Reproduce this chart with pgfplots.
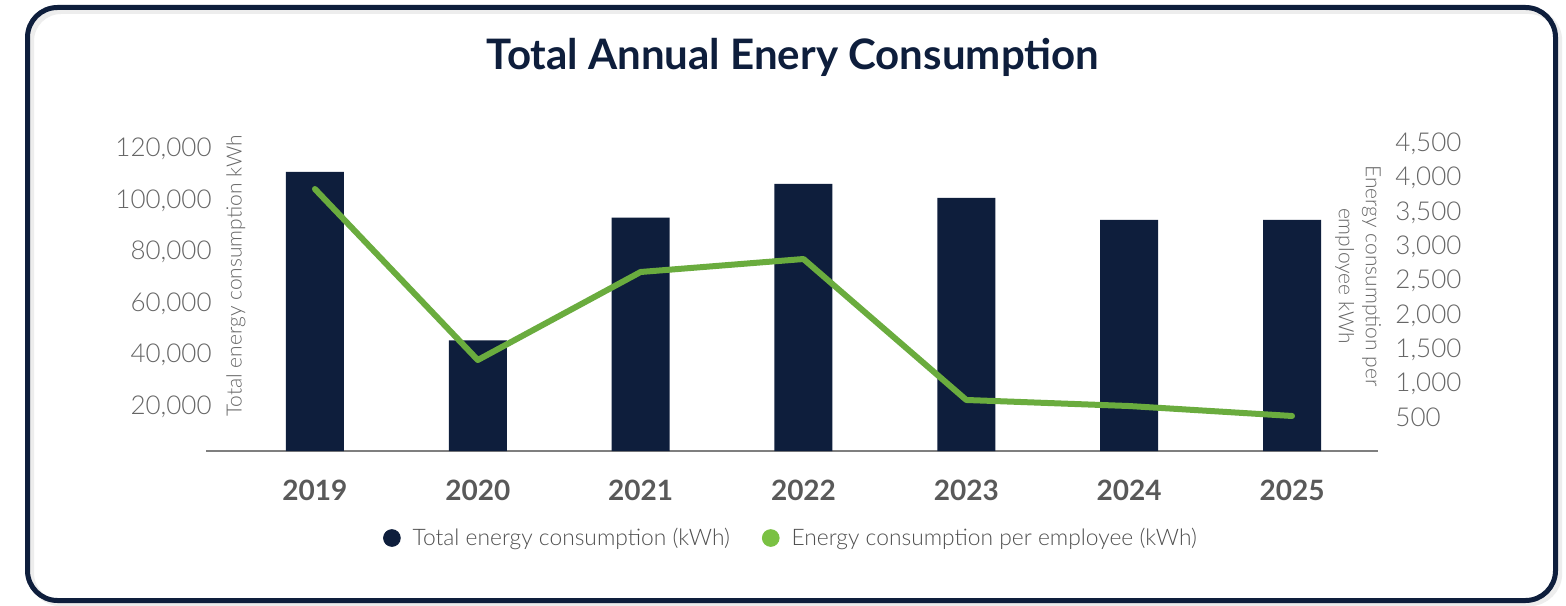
\documentclass[border=0pt]{standalone}
\usepackage{pgfplots}
\pgfplotsset{compat=1.18}
\usepackage{fontspec}
\setmainfont{Lato}
\IfFontExistsTF{Lato Light}{\newfontfamily\lightf{Lato Light}}{\newfontfamily\lightf{Lato}}
\definecolor{navyc}{HTML}{0E1E3C}
\definecolor{greenl}{HTML}{6AAC3E}
\definecolor{greenm}{HTML}{7AC143}
\definecolor{tickgray}{HTML}{666666}
\definecolor{yeargray}{HTML}{595959}
\definecolor{basegray}{HTML}{7F7F7F}
\definecolor{leggray}{HTML}{505050}
\begin{document}
\begin{tikzpicture}[x=1pt,y=1pt]
\useasboundingbox (0,0) rectangle (783,302.5);
\fill[white] (0,0) rectangle (783,302.5);
\draw[line width=3pt, black!7, rounded corners=15pt] (15.5,0.9) rectangle (779.6,297);
\draw[line width=2.5pt, navyc, rounded corners=15pt] (13.75,2.25) rectangle (777.75,298.75);
\node[anchor=base, font=\fontsize{21}{25}\selectfont\bfseries, text=navyc, inner sep=0pt] at (396.5,267.5) {Total Annual Enery Consumption};
\node[rotate=90, anchor=center, font=\fontsize{10.5}{13}\selectfont\lightf, text=tickgray, inner sep=0pt] at (118,164.5) {Total energy consumption kWh};
\node[rotate=-90, anchor=center, align=center, font=\fontsize{10.5}{13.5}\selectfont\lightf, text=tickgray, inner sep=0pt] at (679,164.5) {Energy consumption per\\employee kWh};
\begin{axis}[
 at={(103pt,77pt)}, anchor=south west,
 scale only axis, width=586pt, height=154.5pt,
 xmin=-0.669, xmax=6.528, ymin=0, ymax=120000,
 axis x line*=bottom, axis y line*=left,
 y axis line style={draw=none},
 x axis line style={basegray, line width=1pt},
 major tick length=0pt,
 scaled y ticks=false,
 xtick={0,...,6}, xticklabels={2019,2020,2021,2022,2023,2024,2025},
 xticklabel style={anchor=center, yshift=-19.5pt, font=\fontsize{14}{16}\selectfont\bfseries, text=yeargray},
 ytick={20000,40000,60000,80000,100000,120000},
 yticklabels={{20,000},{40,000},{60,000},{80,000},{100,000},{120,000}},
 yticklabel style={anchor=base east, inner sep=0pt, xshift=3pt, yshift=-7.45pt, font=\fontsize{13}{15}\selectfont\lightf, text=tickgray},
 ybar, bar width=29pt,
]
\addplot[fill=navyc, draw=none] coordinates {(0,108400) (1,43000) (2,90600) (3,103750) (4,98300) (5,89800) (6,89800)};
\end{axis}
\begin{axis}[
 at={(103pt,77pt)}, anchor=south west,
 scale only axis, width=586pt, height=154.5pt,
 xmin=-0.669, xmax=6.528, ymin=0, ymax=4500,
 axis x line=none, axis y line*=right,
 y axis line style={draw=none},
 major tick length=0pt,
 scaled y ticks=false,
 ytick={500,1000,1500,2000,2500,3000,3500,4000,4500},
 yticklabels={500,{1,000},{1,500},{2,000},{2,500},{3,000},{3,500},{4,000},{4,500}},
 yticklabel style={anchor=base west, inner sep=0pt, xshift=8.5pt, yshift=-4.7pt, font=\fontsize{13}{15}\selectfont\lightf, text=tickgray},
 legend style={at={(0.5,-0.2816)}, anchor=center, draw=none, fill=none, font=\fontsize{11.4}{13}\selectfont\lightf, text=leggray, legend columns=2, /tikz/every even column/.append style={column sep=14pt}, /tikz/every odd column/.append style={column sep=4pt}},
 legend cell align=left,
]
\addplot[greenl, line width=3pt, line join=round, line cap=round, forget plot] coordinates {(0,3815) (1,1325) (2,2607) (3,2796) (4,743) (5,655) (6,510)};
\addlegendimage{legend image code/.code={\fill[navyc] (0pt,0pt) circle (4.2pt);}}
\addlegendimage{legend image code/.code={\fill[greenm] (0pt,0pt) circle (4.2pt);}}
\legend{Total energy consumption (kWh), Energy consumption per employee (kWh)}
\end{axis}
\end{tikzpicture}
\end{document}
